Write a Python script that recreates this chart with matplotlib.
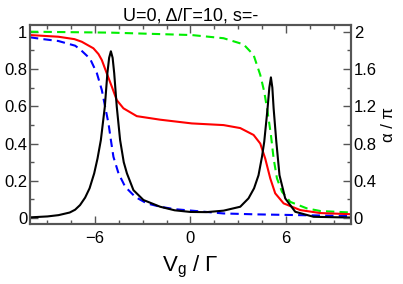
import numpy as np
import matplotlib.pyplot as plt
from matplotlib.ticker import MultipleLocator

plt.rcParams['font.family'] = ['Liberation Sans', 'DejaVu Sans']

# black: conductance (left axis)
x_g = [-10.1, -9.0, -8.3, -7.6, -7.26, -6.95, -6.63, -6.35, -6.06, -5.85, -5.64, -5.39,
       -5.23, -5.12, -5.01, -4.9, -4.8, -4.64, -4.43, -4.2, -4.0, -3.59, -2.96, -1.91,
       -1.0, 0.0, 1.0, 2.08, 3.13, 3.65, 4.0, 4.28, 4.5, 4.64, 4.85, 4.96, 5.06, 5.15,
       5.23, 5.4, 5.6, 5.96, 6.59, 7.75, 10.1]
g = [0.004, 0.009, 0.016, 0.03, 0.045, 0.07, 0.11, 0.16, 0.24, 0.32, 0.419, 0.598,
     0.777, 0.86, 0.895, 0.86, 0.777, 0.598, 0.419, 0.30, 0.24, 0.15, 0.097, 0.061,
     0.042, 0.033, 0.032, 0.04, 0.061, 0.106, 0.16, 0.23, 0.33, 0.41, 0.589, 0.70, 0.755,
     0.70, 0.589, 0.41, 0.23, 0.106, 0.034, 0.007, 0.003]

# red solid
x_r = [-10.1, -8.31, -7.3, -6.84, -6.11, -5.79, -5.58, -5.27, -4.95, -4.64, -4.22, -3.38,
       -1.91, 0.08, 2.08, 3.13, 3.97, 4.39, 4.7, 5.02, 5.33, 5.86, 6.91, 8.17, 10.1]
r = [0.982, 0.973, 0.96, 0.946, 0.911, 0.88, 0.848, 0.777, 0.705, 0.633, 0.589, 0.547,
     0.528, 0.508, 0.499, 0.483, 0.446, 0.40, 0.32, 0.213, 0.133, 0.079, 0.043, 0.027, 0.021]

# green dashed
x_gr = [-10.1, -5.0, 0.08, 2.08, 3.34, 3.97, 4.39, 4.64, 4.85, 5.06, 5.23, 5.44, 5.76,
        6.28, 7.33, 8.17, 10.1]
gr = [1.0, 0.995, 0.982, 0.965, 0.932, 0.875, 0.768, 0.678, 0.571, 0.446, 0.32, 0.213,
      0.141, 0.087, 0.052, 0.038, 0.03]

# blue dashed
x_b = [-10.1, -9.36, -8.31, -7.26, -6.94, -6.32, -5.89, -5.58, -5.37, -5.16, -5.01, -4.85,
       -4.53, -4.11, -3.48, -2.75, -1.91, -1.0, 0.08, 2.08, 4.18, 10.1]
b = [0.97, 0.961, 0.95, 0.925, 0.905, 0.855, 0.777, 0.687, 0.597, 0.508, 0.419, 0.329,
     0.24, 0.168, 0.114, 0.079, 0.061, 0.048, 0.04, 0.025, 0.02, 0.011]

fig = plt.figure(figsize=(4.03, 2.84), dpi=100)
ax = fig.add_axes([0.0744, 0.211, 0.7966, 0.701])

kw = dict(lw=1.5, solid_joinstyle='round', dash_joinstyle='round')
ax.plot(x_g, g, color='black', zorder=4, **kw)
ax.plot(x_r, r, color='red', zorder=3, **kw)
ax.plot(x_gr, gr, color='#00ee00', ls=(0, (4, 2.5)), zorder=2, **kw)
ax.plot(x_b, b, color='blue', ls=(0, (4, 2.5)), zorder=2, **kw)

ax.set_xlim(-10.1, 10.1)
ax.set_ylim(-0.032, 1.036)
ax.xaxis.set_major_locator(MultipleLocator(6))
ax.xaxis.set_minor_locator(MultipleLocator(1.5))
ax.yaxis.set_minor_locator(MultipleLocator(0.1))
ax.set_yticks([0, 0.2, 0.4, 0.6, 0.8, 1.0])
ax.set_yticklabels(['0', '0.2', '0.4', '0.6', '0.8', '1'])

ax2 = ax.twinx()
ax2.set_ylim(-0.064, 2.072)
ax2.set_yticks([0, 0.4, 0.8, 1.2, 1.6, 2.0])
ax2.set_yticklabels(['0', '0.4', '0.8', '1.2', '1.6', '2'])
ax2.yaxis.set_minor_locator(MultipleLocator(0.2))

spine_col = '#555555'
for a in (ax, ax2):
    for s in a.spines.values():
        s.set_color(spine_col)
        s.set_linewidth(1.5)
ax.tick_params(which='both', direction='in', top=True, right=False, colors=spine_col,
               labelcolor='black', labelsize=12, pad=2)
ax.tick_params(which='major', length=6, width=1)
ax.tick_params(which='minor', length=3, width=1)
ax2.tick_params(which='both', direction='in', colors=spine_col, labelcolor='black',
                labelsize=12, pad=2)
ax2.tick_params(which='major', length=6, width=1)
ax2.tick_params(which='minor', length=3, width=1)
ax.tick_params(axis='x', pad=5)

ax.set_xlabel(r'V$_\mathregular{g}$ / $\mathregular{\Gamma}$', fontsize=16, labelpad=6)
ax2.set_ylabel('α / π', fontsize=12, rotation=90, labelpad=3)
ax.set_title('U=0, Δ/Γ=10, s=-', fontsize=13, pad=3)

fig.savefig('out.png', dpi=100)
